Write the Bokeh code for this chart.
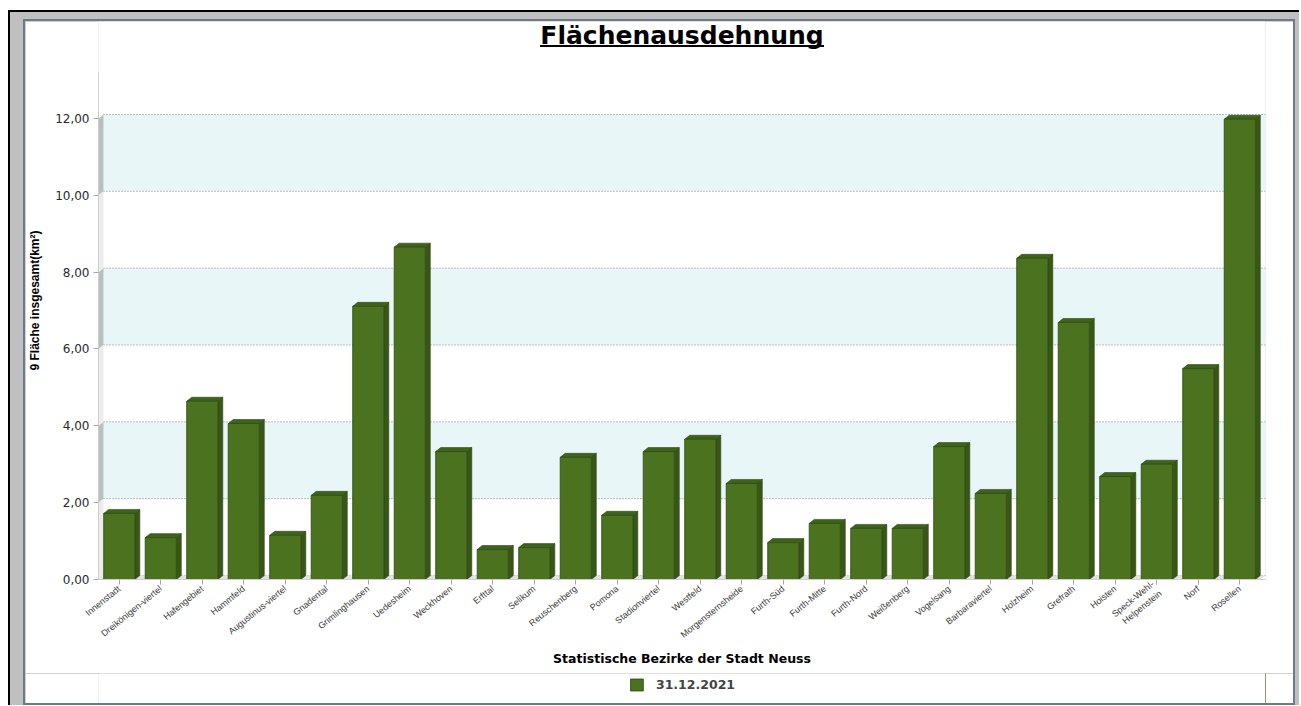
from bokeh.plotting import figure
from bokeh.models import (ColumnDataSource, FixedTicker, Legend, LegendItem,
                          Range1d)
from bokeh.core.properties import value
from bokeh.layouts import column
from bokeh.embed import file_html
from bokeh.resources import INLINE

# ---------------- data ----------------
districts = [
    "Innenstadt", "Dreikönigen-viertel", "Hafengebiet", "Hammfeld",
    "Augustinus-viertel", "Gnadental", "Grimlinghausen", "Uedesheim",
    "Weckhoven", "Erfttal", "Selikum", "Reuschenberg", "Pomona",
    "Stadionviertel", "Westfeld", "Morgensternsheide", "Furth-Süd",
    "Furth-Mitte", "Furth-Nord", "Weißenberg", "Vogelsang", "Barbaraviertel",
    "Holzheim", "Grefrath", "Hoisten", "Speck-Wehl-\nHelpenstein", "Norf",
    "Rosellen",
]
flaeche = [
    1.72, 1.09, 4.64, 4.06, 1.15, 2.19, 7.11, 8.65, 3.33, 0.78, 0.83, 3.18,
    1.67, 3.33, 3.65, 2.50, 0.96, 1.46, 1.33, 1.33, 3.46, 2.24, 8.36, 6.69,
    2.68, 3.00, 5.49, 11.98,
]
y_ticks = [0, 2, 4, 6, 8, 10, 12]
y_tick_labels = ["0,00", "2,00", "4,00", "6,00", "8,00", "10,00", "12,00"]
shaded_bands = [(2, 4), (6, 8), (10, 12)]
white_bands = [(0, 2), (4, 6), (8, 10)]
series_name = "31.12.2021"
title_text = "Flächenausdehnung"
x_title = "Statistische Bezirke der Stadt Neuss"
y_title = "9 Fläche insgesamt(km²)"

# ---------------- style constants ----------------
CANVAS_W, CANVAS_H = 1268, 652
LEGEND_H = 30
B_LEFT, B_RIGHT, B_TOP, B_BOTTOM = 73, 28, 0, 94
FRAME_W = CANVAS_W - B_LEFT - B_RIGHT
FRAME_H = CANVAS_H - B_TOP - B_BOTTOM
PX_PER_Y = 38.42
Y_AXIS_TOP = 13.2
Y_MAX = FRAME_H / PX_PER_Y
X_LO = -0.5
DX = 0.12      # 3D depth, x (data units, ~5px)
DY = 0.104     # 3D depth, y (data units, ~4px)
X_HI = len(districts) - 0.5 + DX
PX_PER_X = FRAME_W / (X_HI - X_LO)
BAR_W = 0.75
FRONT = "#4a721f"
SIDE = "#385717"
TOP = "#3f631a"
EDGE = "#2c4a0f"
BAND = "#e8f6f8"

idx = list(range(len(districts)))

p = figure(width=CANVAS_W, height=CANVAS_H,
           x_range=Range1d(X_LO, X_HI), y_range=Range1d(0, Y_MAX),
           output_backend="svg", toolbar_location=None,
           min_border_left=B_LEFT, min_border_right=B_RIGHT,
           min_border_top=B_TOP, min_border_bottom=B_BOTTOM,
           background_fill_color="white", border_fill_color="white",
           outline_line_color=None)
p.grid.visible = False

# back wall bands
x_wall0 = X_LO + DX
p.quad(left=[x_wall0] * len(shaded_bands), right=[X_HI] * len(shaded_bands),
       bottom=[b[0] + DY for b in shaded_bands],
       top=[b[1] + DY for b in shaded_bands],
       fill_color=BAND, line_color=None)

# grid lines (dotted, on the back wall)
p.segment(x0=[x_wall0] * len(y_ticks), x1=[X_HI] * len(y_ticks),
          y0=[t + DY for t in y_ticks], y1=[t + DY for t in y_ticks],
          line_color="#808080", line_dash="1 2", line_width=1)

# left wall
def wall(bands):
    xs = [[X_LO, X_LO + DX, X_LO + DX, X_LO] for _ in bands]
    ys = [[lo, lo + DY, hi + DY, hi] for lo, hi in bands]
    return xs, ys

wxs, wys = wall(shaded_bands)
p.patches(wxs, wys, fill_color="#b7c0c1", line_color=None)
wxs, wys = wall(white_bands)
p.patches(wxs, wys, fill_color="#ececec", line_color=None)

# floor
p.patch([X_LO, X_LO + DX, X_HI, X_HI - DX], [0, DY, DY, 0],
        fill_color="#e2e2e2", line_color=None)

# bars: side and top faces
side_xs, side_ys, top_xs, top_ys = [], [], [], []
for i, v in zip(idx, flaeche):
    r = i + BAR_W / 2
    l = i - BAR_W / 2
    side_xs.append([r, r + DX, r + DX, r])
    side_ys.append([0, DY, v + DY, v])
    top_xs.append([l, l + DX, r + DX, r])
    top_ys.append([v, v + DY, v + DY, v])
p.patches(side_xs, side_ys, fill_color=SIDE, line_color=EDGE, line_width=0.6)
p.patches(top_xs, top_ys, fill_color=TOP, line_color=EDGE, line_width=0.6)

src = ColumnDataSource(dict(x=idx, top=flaeche, name=districts))
bars = p.vbar(x="x", top="top", width=BAR_W, bottom=0, source=src,
              fill_color=FRONT, line_color=EDGE, line_width=0.8)

# ---------------- title (drawn in the upper, axis-free part of the frame) ---
cx = (X_LO + X_HI) / 2
title_base_y = Y_MAX - 14 / PX_PER_Y
p.text(x=[cx], y=[title_base_y], text=[title_text],
       text_font=value("DejaVu Sans"), text_font_size="25px",
       text_font_style="bold", text_color="#000000",
       text_align="center", text_baseline="alphabetic")
half_w = 142 / PX_PER_X
ul_y = Y_MAX - 24.5 / PX_PER_Y
p.segment(x0=[cx - half_w], x1=[cx + half_w], y0=[ul_y], y1=[ul_y],
          line_color="#000000", line_width=2)

# ---------------- axes ----------------
xa = p.xaxis[0]
xa.ticker = FixedTicker(ticks=idx)
xa.major_label_overrides = {i: n for i, n in zip(idx, districts)}
xa.major_label_orientation = 0.68
xa.major_label_text_font = "Liberation Sans"
xa.major_label_text_font_size = "9px"
xa.major_label_text_color = "#3a3a3a"
xa.major_label_standoff = 3
xa.axis_line_color = "#cfcfcf"
xa.major_tick_line_color = "#a8a8a8"
xa.major_tick_out = 5
xa.major_tick_in = 0
xa.minor_tick_line_color = None
xa.axis_label = x_title
xa.axis_label_text_font = "DejaVu Sans"
xa.axis_label_text_font_size = "12.5px"
xa.axis_label_text_font_style = "bold"
xa.axis_label_text_color = "#000000"
xa.axis_label_standoff = 4

ya = p.yaxis[0]
ya.bounds = (0, Y_AXIS_TOP)
ya.ticker = FixedTicker(ticks=y_ticks)
ya.major_label_overrides = {t: s for t, s in zip(y_ticks, y_tick_labels)}
ya.major_label_text_font = "DejaVu Sans"
ya.major_label_text_font_size = "12px"
ya.major_label_text_color = "#2a2a2a"
ya.major_label_standoff = 4
ya.axis_line_color = "#cfcfcf"
ya.major_tick_line_color = "#a8a8a8"
ya.major_tick_out = 5
ya.major_tick_in = 0
ya.minor_tick_line_color = None
ya.axis_label = y_title
ya.axis_label_text_font = "Liberation Sans"
ya.axis_label_text_font_size = "12px"
ya.axis_label_text_font_style = "bold"
ya.axis_label_text_color = "#000000"
ya.axis_label_standoff = 10

# ---------------- legend strip (separate small figure below) -------------
p2 = figure(width=CANVAS_W, height=LEGEND_H, x_range=Range1d(0, 1),
            y_range=Range1d(0, 1), output_backend="svg",
            x_axis_type=None, y_axis_type=None,
            toolbar_location=None, min_border=0,
            background_fill_color="white", border_fill_color="white",
            outline_line_color=None)
p2.grid.visible = False
# key glyph: same style as the bars; its data lies outside the strip's view
key_src = ColumnDataSource(dict(x=[5.0], top=[1.0]))
key = p2.vbar(x="x", top="top", width=0.1, source=key_src,
              fill_color=FRONT, line_color=EDGE, line_width=0.8)
legend = Legend(items=[LegendItem(label=series_name, renderers=[key])],
                orientation="horizontal", location="top_center",
                border_line_color=None, background_fill_alpha=0,
                label_text_font="DejaVu Sans", label_text_font_size="12.5px",
                label_text_font_style="bold", glyph_width=16, glyph_height=15,
                label_standoff=12, padding=0, margin=4)
p2.add_layout(legend, "center")

inner = column(p, p2, spacing=0, styles={"border": "2px solid #6b7b8b"})

outer = column(inner, styles={"background-color": "#c0c0c0",
                              "border-top": "2px solid #000000",
                              "border-left": "2px solid #000000",
                              "margin": "10px 0px 0px 8px",
                              "padding": "7px 4px 0px 13px"})

open("out.html", "w").write(file_html(outer, INLINE))
